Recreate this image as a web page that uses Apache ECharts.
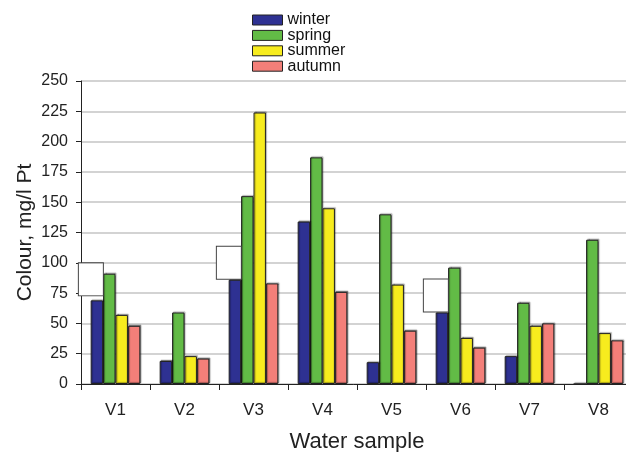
<!DOCTYPE html>
<html>
<head>
<meta charset="utf-8">
<script src="https://cdn.jsdelivr.net/npm/echarts@6/dist/echarts.min.js"></script>
<style>
  html, body { margin: 0; padding: 0; background: #fff; }
  #chart { width: 626px; height: 452px; }
</style>
</head>
<body>
<div id="chart"></div>
<script>
// Water colour by sample and season
const samples = ['V1', 'V2', 'V3', 'V4', 'V5', 'V6', 'V7', 'V8'];
const winter = [69, 19, 86, 134, 18, 59, 23, 0];
const spring = [91, 59, 155, 187, 140, 96, 67, 119];
const summer = [57, 23, 224, 145, 82, 38, 48, 42];
const autumn = [48, 21, 83, 76, 44, 30, 50, 36];
// samples whose winter bar carries an empty callout box
const boxedSamples = ['V1', 'V3', 'V6'];
const yTicks = { min: 0, max: 250, step: 25 };

// styling: lift of each callout box above its bar (px)
const boxLift = { V1: 4, V3: 0, V6: 0 };

const FONT = '"Liberation Sans", Arial, sans-serif';

const barBase = {
  type: 'bar',
  barGap: '0%',
  barCategoryGap: '28%',
  itemStyle: {
    borderColor: '#222',
    borderWidth: 1,
    shadowColor: 'rgba(0,0,0,0.35)',
    shadowOffsetX: 1,
    shadowOffsetY: -1,
    shadowBlur: 1
  }
};

const winterData = samples.map((s, i) => {
  const item = { value: winter[i] };
  if (boxedSamples.includes(s)) {
    item.label = {
      show: true,
      position: 'top',
      formatter: ' ',
      width: 24,
      height: 32,
      backgroundColor: '#fff',
      borderColor: '#444',
      borderWidth: 1,
      offset: [-6, -(boxLift[s] || 0)],
      distance: 1
    };
  }
  return item;
});

const chart = echarts.init(document.getElementById('chart'));
chart.setOption({
  animation: false,
  textStyle: { fontFamily: FONT },
  legend: {
    orient: 'vertical',
    left: 252,
    top: 12,
    padding: 0,
    icon: 'rect',
    itemWidth: 30,
    itemHeight: 10,
    itemGap: -0.6,
    itemStyle: { borderColor: '#222', borderWidth: 1 },
    textStyle: { fontSize: 16, color: '#111', fontFamily: FONT },
    data: ['winter', 'spring', 'summer', 'autumn']
  },
  grid: { left: 81, top: 81, width: 552, height: 303, outerBoundsMode: 'none', containLabel: false },
  xAxis: {
    type: 'category',
    data: samples,
    name: 'Water sample',
    nameLocation: 'middle',
    nameGap: 47,
    nameMoveOverlap: false,
    nameTextStyle: { fontSize: 22, color: '#222', fontFamily: FONT },
    axisLine: { lineStyle: { color: '#222', width: 1 } },
    axisTick: { show: true, length: 6, lineStyle: { color: '#222' } },
    axisLabel: { fontSize: 17, color: '#222', margin: 18, fontFamily: FONT }
  },
  yAxis: {
    type: 'value',
    min: yTicks.min,
    max: yTicks.max,
    interval: yTicks.step,
    name: 'Colour, mg/l Pt',
    nameLocation: 'middle',
    nameGap: 45,
    nameMoveOverlap: false,
    nameTextStyle: { fontSize: 21, color: '#222', fontFamily: FONT },
    axisLine: { show: true, lineStyle: { color: '#222', width: 1 } },
    axisTick: { show: true, length: 5, lineStyle: { color: '#222' } },
    axisLabel: { fontSize: 16, color: '#222', margin: 13, fontFamily: FONT },
    splitLine: { show: true, lineStyle: { color: '#c4c4c4', width: 1.5 } }
  },
  series: [
    Object.assign({}, barBase, { name: 'winter', data: winterData, color: '#2e3192', z: 3 }),
    Object.assign({}, barBase, { name: 'spring', data: spring, color: '#62bb46', z: 2 }),
    Object.assign({}, barBase, { name: 'summer', data: summer, color: '#f7ec1e', z: 2 }),
    Object.assign({}, barBase, { name: 'autumn', data: autumn, color: '#f37f79', z: 2 })
  ]
});
</script>
</body>
</html>
